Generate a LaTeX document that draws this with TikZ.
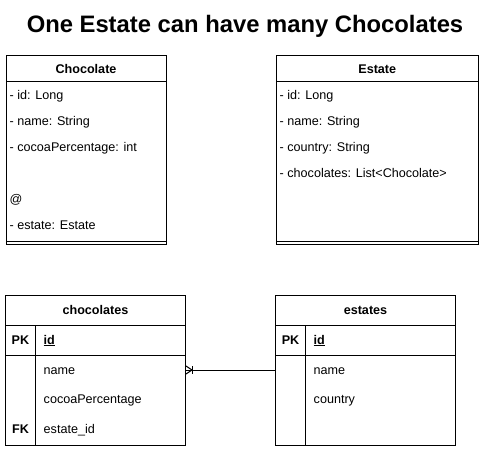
\documentclass[tikz,border=0pt]{standalone}
\usepackage{fontspec}
\setmainfont{Liberation Sans}
\begin{document}
\begin{tikzpicture}[x=1pt,y=-1pt,
  frame/.style={draw=black, line width=1pt, fill=none, inner sep=0pt, outer sep=0pt, anchor=north west},
  rule/.style={draw=black, line width=1pt},
  row/.style={anchor=base west, inner sep=0pt, font=\fontsize{12.6}{14}\selectfont},
  head/.style={anchor=base, inner sep=0pt, font=\fontsize{12.6}{14}\selectfont\bfseries},
  key/.style={anchor=base, inner sep=0pt, font=\fontsize{12.6}{14}\selectfont\bfseries},
  titletext/.style={anchor=base, inner sep=0pt, font=\fontsize{23.8}{28}\selectfont\bfseries}
]
\useasboundingbox (0,0) rectangle (481,451);

% title
\node[titletext] (title) at (245,32) {One Estate can have many Chocolates};

% ---------- UML class Chocolate ----------
\node[frame, minimum width=160pt, minimum height=189pt] (choc) at (6,55.5) {};
\draw[rule] (6,81) -- (166,81);
\draw[rule] (6,241) -- (166,241);
\node[head] (chocT) at (86,73) {Chocolate};
\node[row] (c1) at (9.5,99) {- id: Long};
\node[row] (c2) at (9.5,125) {- name: String};
\node[row] (c3) at (9.5,151) {- cocoaPercentage: int};
\node[row] (c4) at (9.5,203) {@};
\node[row] (c5) at (9.5,229) {- estate: Estate};

% ---------- UML class Estate ----------
\node[frame, minimum width=202.5pt, minimum height=189pt] (est) at (276,55.5) {};
\draw[rule] (276,81) -- (478.5,81);
\draw[rule] (276,241) -- (478.5,241);
\node[head] (estT) at (377.25,73) {Estate};
\node[row] (e1) at (279.5,99) {- id: Long};
\node[row] (e2) at (279.5,125) {- name: String};
\node[row] (e3) at (279.5,151) {- country: String};
\node[row] (e4) at (279.5,177) {- chocolates: List<Chocolate>};

% ---------- table chocolates ----------
\node[frame, minimum width=180pt, minimum height=150pt] (ctab) at (5.5,295.5) {};
\draw[rule] (5.5,325.5) -- (185.5,325.5);
\draw[rule] (5.5,355.5) -- (185.5,355.5);
\draw[rule] (35.5,325.5) -- (35.5,445.5);
\node[head] (ctabT) at (95.5,314) {chocolates};
\node[key] (cpk) at (20.5,344) {PK};
\node[row, font=\fontsize{12.6}{14}\selectfont\bfseries] (cid) at (43.5,344) {\underline{id}};
\node[row] (cname) at (43.5,374) {name};
\node[row] (ccocoa) at (43.5,403) {cocoaPercentage};
\node[key] (cfk) at (20.5,433) {FK};
\node[row] (cest) at (43.5,433) {estate\_id};

% ---------- table estates ----------
\node[frame, minimum width=180pt, minimum height=150pt] (etab) at (275.5,295.5) {};
\draw[rule] (275.5,325.5) -- (455.5,325.5);
\draw[rule] (275.5,355.5) -- (455.5,355.5);
\draw[rule] (305.5,325.5) -- (305.5,445.5);
\node[head] (etabT) at (365.5,314) {estates};
\node[key] (epk) at (290.5,344) {PK};
\node[row, font=\fontsize{12.6}{14}\selectfont\bfseries] (eid) at (313.5,344) {\underline{id}};
\node[row] (ename) at (313.5,374) {name};
\node[row] (ecountry) at (313.5,403) {country};

% ---------- relation ----------
\coordinate (relL) at (ctab.east |- 0,370);
\coordinate (relR) at (etab.west |- 0,370);
\coordinate (tip) at (192,370);
\coordinate (pa) at (186,366);
\coordinate (pb) at (186,374);
\coordinate (barT) at (192,366);
\coordinate (barB) at (192,374);
\draw[rule] (relL) -- (relR);
\draw[rule] (pa) -- (tip) -- (pb);
\draw[rule] (barT) -- (barB);
\end{tikzpicture}
\end{document}
